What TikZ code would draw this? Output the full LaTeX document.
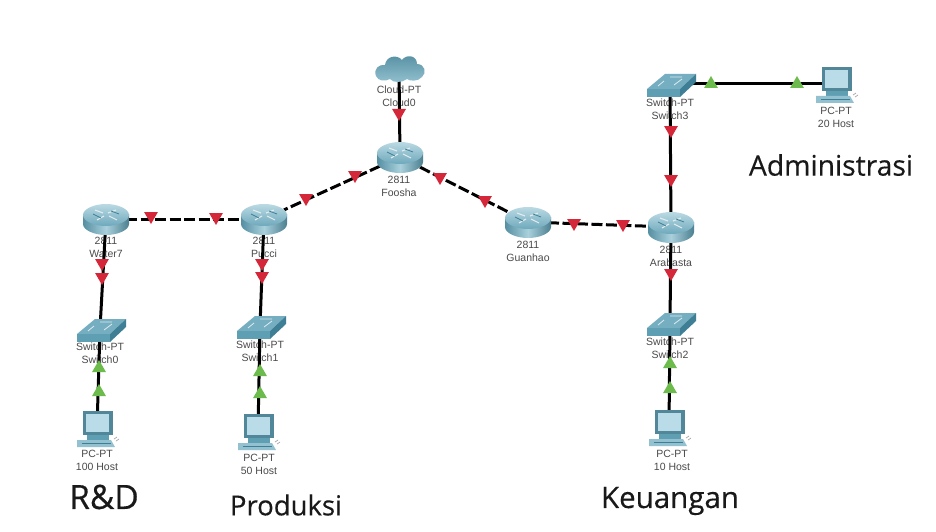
\documentclass[tikz,border=0pt]{standalone}
\usepackage{fontspec}
\setmainfont{Liberation Sans}
\newfontfamily\bigfont[FakeBold=0.35]{Open Sans}
\usetikzlibrary{shapes.geometric}
\definecolor{tealD}{HTML}{3E7F96}
\definecolor{tealM}{HTML}{5F9FB4}
\definecolor{tealL}{HTML}{A9D0DC}
\definecolor{scr}{HTML}{B9DCE8}
\definecolor{lbl}{HTML}{4A4A4A}
\definecolor{redt}{HTML}{D4283A}
\definecolor{greent}{HTML}{6DBB4C}
\tikzset{
  x=1pt,y=-1pt,
  devbox/.style={inner sep=0pt,outer sep=0pt,minimum width=#1},
  devlabel/.style={font=\fontsize{10.5}{13}\selectfont,text=lbl,align=center,inner sep=0pt},
  biglabel/.style={text=black!90,inner sep=0pt},
  link/.style={line width=3pt,black},
  dashlink/.style={link,dash pattern=on 11pt off 3.5pt},
  redmark/.style={regular polygon,regular polygon sides=3,shape border rotate=180,fill=redt,inner sep=0pt,minimum size=16pt},
  greenmark/.style={regular polygon,regular polygon sides=3,fill=greent,inner sep=0pt,minimum size=16pt},
  routerpic/.pic={
    \shade[left color=tealM!90!black,right color=tealM!80!black,middle color=tealL] (-23,-5) -- (-23,5) .. controls (-23,11) and (-12,16) .. (0,16) .. controls (12,16) and (23,11) .. (23,5) -- (23,-5) -- cycle;
    \shade[top color=tealL!80!white,bottom color=tealM!80!tealL] (-23,-4) .. controls (-23,-10) and (-12,-15) .. (0,-15) .. controls (12,-15) and (23,-10) .. (23,-4) .. controls (23,2) and (12,7) .. (0,7) .. controls (-12,7) and (-23,2) .. (-23,-4) -- cycle;
    \draw[white!85!tealD,line width=1.1pt] (-11,-9) -- (-3,-6) (11,1) -- (3,-3) (-9,1) -- (-2,-3) (10,-9) -- (2,-6);
    \draw[tealD,line width=.8pt] (-13,-5) -- (-5,-1) (13,-5) -- (5,-8);
  },
  switchpic/.pic={
    \fill[tealM!70!tealL] (-23,5) -- (-5,-10) -- (26,-10) -- (10,5) -- cycle;
    \fill[tealM] (-23,5) -- (10,5) -- (10,13) -- (-23,13) -- cycle;
    \fill[tealD] (10,5) -- (26,-10) -- (26,-2) -- (10,13) -- cycle;
    \draw[white!60!tealL,line width=.8pt] (-12,2) -- (-6,-3) (0,-7) -- (12,-7) (4,1) -- (12,-5);
  },
  pcpic/.pic={
    \fill[tealM!85!black] (-14,-17) -- (16,-17) -- (16,7) -- (-14,7) -- cycle;
    \fill[scr] (-11,-14) -- (12,-14) -- (12,4) -- (-11,4) -- cycle;
    \fill[tealM] (-10,7) -- (12,7) -- (12,12) -- (-10,12) -- cycle;
    \fill[tealL!70!tealM] (-20,12) -- (14,12) -- (18,19) -- (-20,19) -- cycle;
    \draw[tealD,line width=.6pt] (-15,15.5) -- (14,15.5);
    \draw[gray!70,line width=.7pt] (17,11) -- (20,9) (19,13) -- (22,11);
  },
  cloudpic/.pic={
    \shade[top color=tealM!90!black,bottom color=tealL!70!tealM] (-23,8) .. controls (-26,1) and (-20,-4) .. (-14,-3)
      .. controls (-13,-12) and (-2,-14) .. (3,-8)
      .. controls (7,-14) and (18,-13) .. (18,-4)
      .. controls (26,-4) and (28,5) .. (23,9)
      .. controls (19,14) and (10,13) .. (8,11)
      .. controls (3,15) and (-6,15) .. (-9,11)
      .. controls (-14,14) and (-21,13) .. (-23,8) -- cycle;
  },
}
\begin{document}
\begin{tikzpicture}
\useasboundingbox (0,0) rectangle (936,532);
\fill[white] (0,0) rectangle (936,532);

% device labels
\node[devlabel] (lcloud) at (399,96) {Cloud-PT\\Cloud0};
\node[devlabel] (lfoosha) at (399,186) {2811\\Foosha};
\node[devlabel] (lwater) at (106,247) {2811\\Water7};
\node[devlabel] (lpucci) at (264,247) {2811\\Pucci};
\node[devlabel] (lguan) at (528,251) {2811\\Guanhao};
\node[devlabel] (larab) at (671,256) {2811\\Arabasta};
\node[devlabel] (lsw0) at (100,353) {Switch-PT\\Switch0};
\node[devlabel] (lsw1) at (260,351) {Switch-PT\\Switch1};
\node[devlabel] (lsw2) at (670,348) {Switch-PT\\Switch2};
\node[devlabel] (lsw3) at (670,109) {Switch-PT\\Switch3};
\node[devlabel] (lpc0) at (97,460) {PC-PT\\100 Host};
\node[devlabel] (lpc1) at (259,464) {PC-PT\\50 Host};
\node[devlabel] (lpc2) at (672,460) {PC-PT\\10 Host};
\node[devlabel] (lpc3) at (836,117) {PC-PT\\20 Host};

% big labels
\node[biglabel,font=\bigfont\fontsize{33.5}{36}\selectfont] (rd) at (104,497) {R\&D};
\node[biglabel,font=\bigfont\fontsize{27.5}{32}\selectfont] (prod) at (286,505) {Produksi};
\node[biglabel,font=\bigfont\fontsize{29.5}{32}\selectfont] (keu) at (670,501) {Keuangan};
\node[biglabel,font=\bigfont\fontsize{28.3}{32}\selectfont] (adm) at (831,165) {Administrasi};

% device anchors
\node[devbox=40pt,minimum height=20pt] (cloud) at (399,68) {};
\node[devbox=40pt,minimum height=26pt] (foosha) at (400,157) {};
\node[devbox=40pt,minimum height=26pt] (water) at (106,219) {};
\node[devbox=40pt,minimum height=26pt] (pucci) at (264,219) {};
\node[devbox=40pt,minimum height=26pt] (guan) at (528,222) {};
\node[devbox=40pt,minimum height=26pt] (arab) at (671,227) {};
\node[devbox=40pt,minimum height=20pt] (sw0) at (100,329) {};
\node[devbox=40pt,minimum height=20pt] (sw1) at (260,326) {};
\node[devbox=40pt,minimum height=20pt] (sw2) at (670,323) {};
\node[devbox=40pt,minimum height=20pt] (sw3) at (670,84) {};
\node[devbox=28pt,minimum height=30pt] (pc0) at (97,428) {};
\node[devbox=28pt,minimum height=30pt] (pc1) at (258,431) {};
\node[devbox=28pt,minimum height=30pt] (pc2) at (669,427) {};
\node[devbox=28pt,minimum height=30pt] (pc3) at (836,84) {};

% connectors
\draw[link] (cloud) -- (foosha);
\draw[dashlink] (foosha) -- (pucci);
\draw[dashlink] (foosha) -- (guan);
\draw[dashlink] (water) -- (pucci);
\draw[dashlink] (guan) -- (arab);
\draw[link] (water) -- (sw0);
\draw[link] (pucci) -- (sw1);
\draw[link] (arab) -- (sw2);
\draw[link] (sw3) -- (arab);
\draw[link] (sw3) -- (pc3);
\draw[link] (sw0) -- (pc0);
\draw[link] (sw1) -- (pc1);
\draw[link] (sw2) -- (pc2);

% icons
\pic at (cloud) {cloudpic};
\pic at (foosha) {routerpic};
\pic at (water) {routerpic};
\pic at (pucci) {routerpic};
\pic at (guan) {routerpic};
\pic at (arab) {routerpic};
\pic at (sw0) {switchpic};
\pic at (sw1) {switchpic};
\pic at (sw2) {switchpic};
\pic at (sw3) {switchpic};
\pic at (pc0) {pcpic};
\pic at (pc1) {pcpic};
\pic at (pc2) {pcpic};
\pic at (pc3) {pcpic};

% link-state markers
\node[redmark] (m1) at (399,113) {};
\node[redmark] (m2) at (355,175) {};
\node[redmark] (m3) at (306,198) {};
\node[redmark] (m4) at (440,177) {};
\node[redmark] (m5) at (485,200) {};
\node[redmark] (m6) at (151,216) {};
\node[redmark] (m7) at (216,217) {};
\node[redmark] (m8) at (574,223) {};
\node[redmark] (m9) at (623,224) {};
\node[redmark] (m10) at (671,130) {};
\node[redmark] (m11) at (671,179) {};
\node[redmark] (m12) at (671,273) {};
\node[redmark] (m13) at (102,263) {};
\node[redmark] (m14) at (102,277) {};
\node[redmark] (m15) at (262,263) {};
\node[redmark] (m16) at (262,276) {};
\node[greenmark] (g1) at (99,368) {};
\node[greenmark] (g2) at (99,392) {};
\node[greenmark] (g3) at (260,372) {};
\node[greenmark] (g4) at (260,394) {};
\node[greenmark] (g5) at (670,364) {};
\node[greenmark] (g6) at (670,389) {};
\node[greenmark] (g7) at (711,84) {};
\node[greenmark] (g8) at (797,84) {};
\end{tikzpicture}
\end{document}
